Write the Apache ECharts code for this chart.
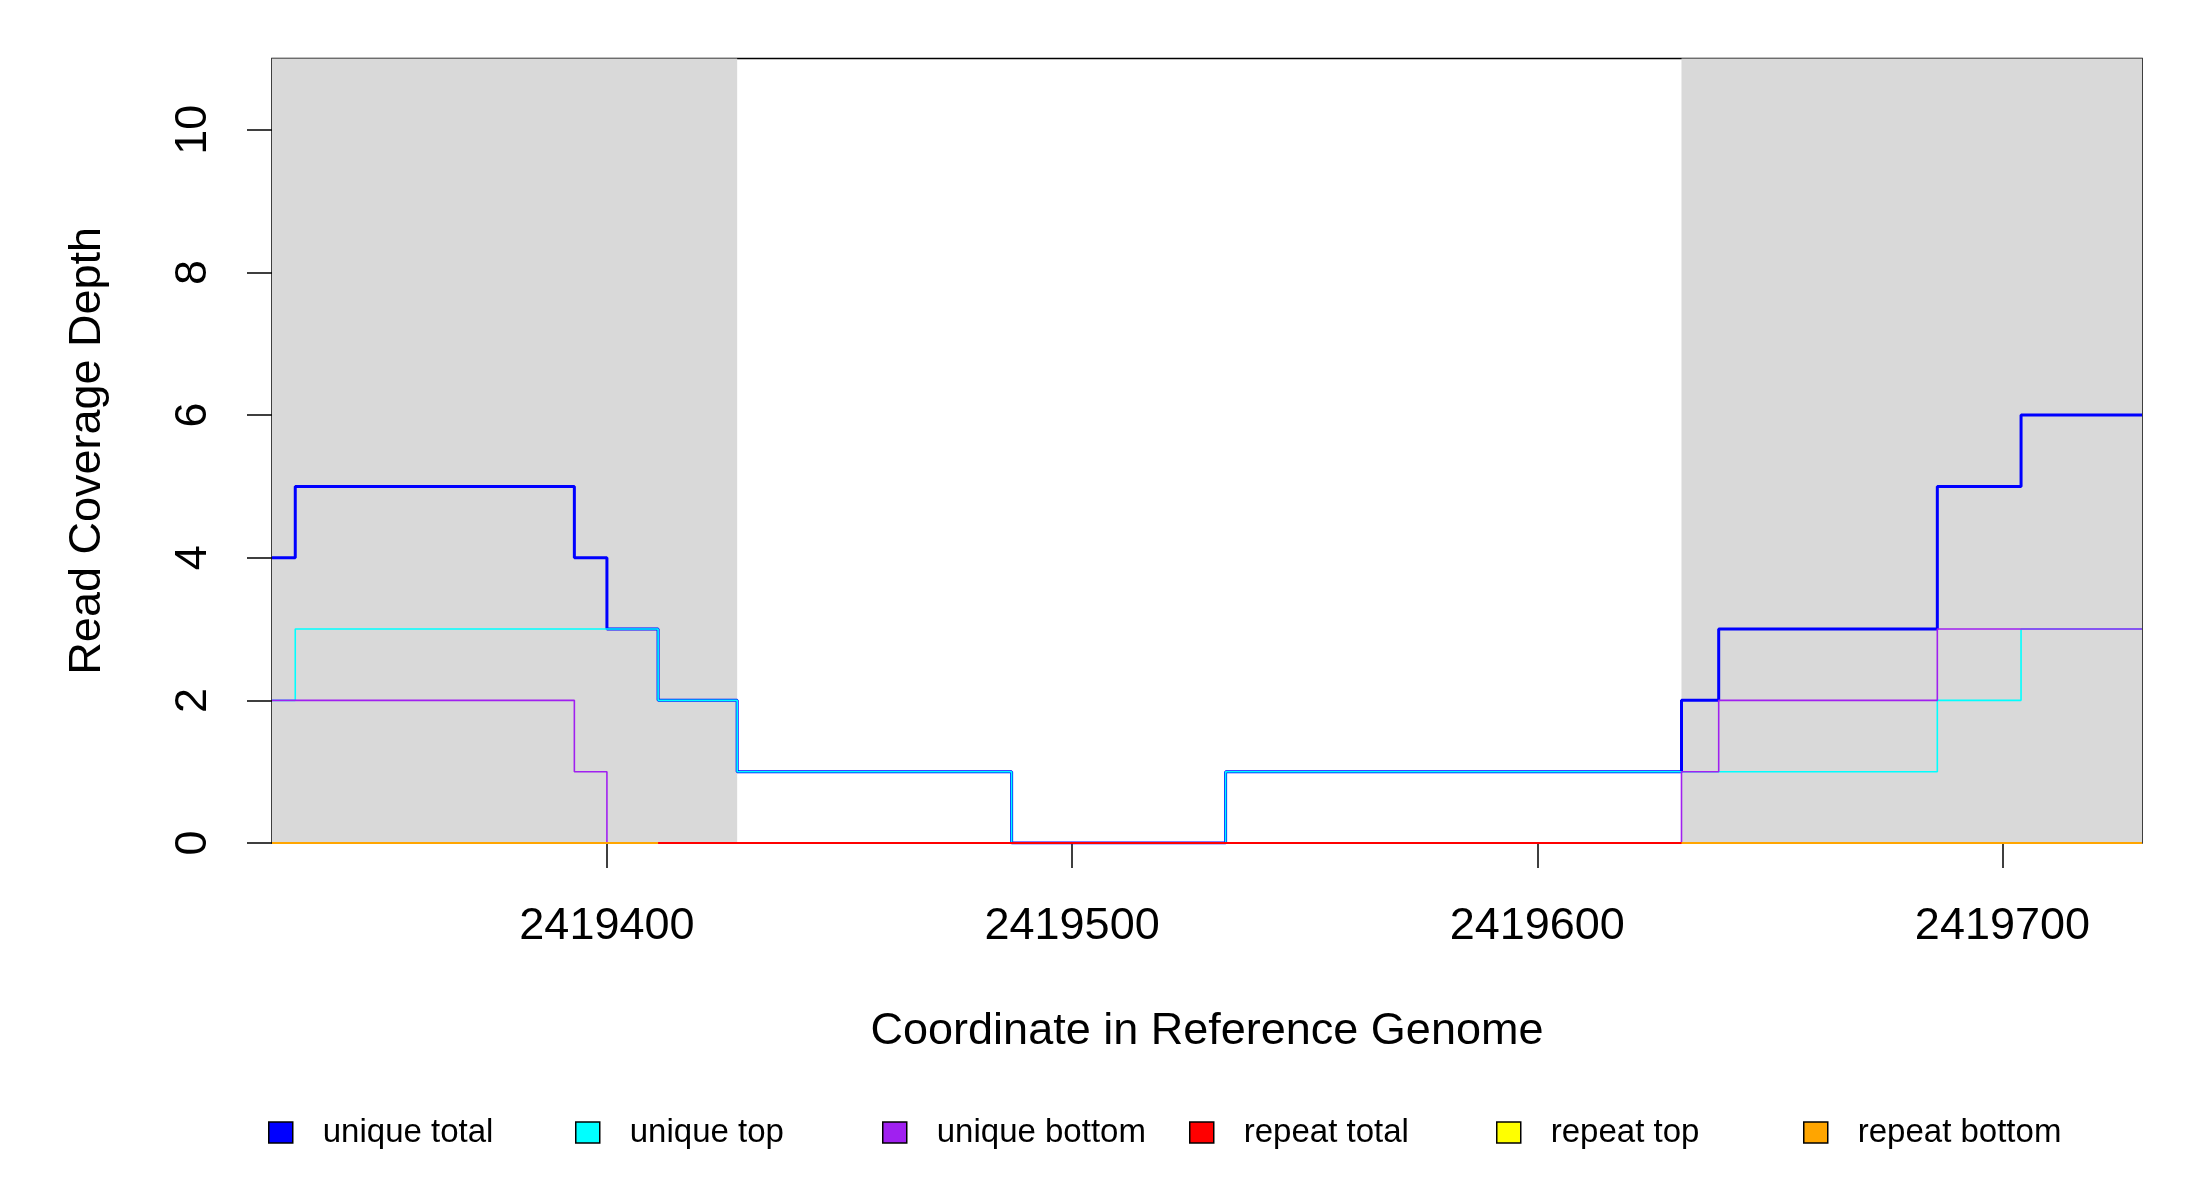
<!DOCTYPE html>
<html lang="en">
<head>
    <meta charset="UTF-8">
    <title>Read Coverage Depth</title>
    <script src="https://cdn.jsdelivr.net/npm/echarts@6/dist/echarts.min.js"></script>
    <style>
        body { margin: 0; background: #fff; }
    </style>
</head>
<body>
    <div id="main" style="width: 2200px;height:1200px;"></div>

    <script type="text/javascript">
        // coverage change points (value holds until the next point)
        var xBreaks = [2419328, 2419333, 2419393, 2419400, 2419411, 2419428, 2419487,
                       2419533, 2419631, 2419639, 2419686, 2419704, 2419730];
        var uniqueTotal  = [4, 5, 4, 3, 2, 1, 0, 1, 2, 3, 5, 6, 6];
        var uniqueTop    = [2, 3, 3, 3, 2, 1, 0, 1, 1, 1, 2, 3, 3];
        var uniqueBottom = [2, 2, 1, 0, 0, 0, 0, 0, 1, 2, 3, 3, 3];
        var repeatTotal  = [0, 0, 0, 0, 0, 0, 0, 0, 0, 0, 0, 0, 0];
        var repeatTop    = [0, 0, 0, 0, 0, 0, 0, 0, 0, 0, 0, 0, 0];
        var repeatBottom = [0, 0, 0, 0, null, null, null, null, 0, 0, 0, 0, 0];

        var shadedRegions = [[2419328, 2419428], [2419631, 2419730]];
        var xTicks = [2419400, 2419500, 2419600, 2419700];
        var yTicks = [0, 2, 4, 6, 8, 10];

        var seriesNames  = ['unique total', 'unique top', 'unique bottom', 'repeat total', 'repeat top', 'repeat bottom'];
        var seriesColors = ['#0000FF', '#00FFFF', '#A020F0', '#FF0000', '#FFFF00', '#FFA500'];
        var seriesValues = [uniqueTotal, uniqueTop, uniqueBottom, repeatTotal, repeatTop, repeatBottom];
        var lineWidths   = [3, 1.6, 1.6, 2, 2, 2];
        // stacking order of the drawn lines (yellow sits under red)
        var lineZ        = [3, 4, 5, 7, 6, 8];

        function pairs(vals) {
            return xBreaks.map(function (x, i) { return [x, vals[i]]; });
        }

        var font = 'Liberation Sans, Arial, sans-serif';
        var myChart = echarts.init(document.getElementById('main'));

        var series = seriesNames.map(function (name, i) {
            var s = {
                name: name,
                type: 'line',
                step: 'end',
                showSymbol: false,
                symbol: 'none',
                connectNulls: false,
                color: seriesColors[i],
                lineStyle: { color: seriesColors[i], width: lineWidths[i] },
                data: pairs(seriesValues[i]),
                z: lineZ[i]
            };
            if (i === 0) {
                s.markArea = {
                    silent: true,
                    itemStyle: { color: '#D9D9D9' },
                    data: shadedRegions.map(function (r) {
                        return [{ xAxis: r[0] }, { xAxis: r[1] }];
                    })
                };
            }
            return s;
        });

        // one legend per entry so they sit at fixed spacing like the original
        var legendLeft = [263, 570, 877, 1184, 1491, 1798];
        var legends = seriesNames.map(function (name, i) {
            return {
                data: [{ name: name, icon: 'rect', itemStyle: { color: seriesColors[i], borderColor: '#000', borderWidth: 1.5 } }],
                left: legendLeft[i],
                top: 1111,
                itemWidth: 24,
                itemHeight: 21,
                selectedMode: false,
                textStyle: { fontFamily: font, fontSize: 33, color: '#000', padding: [0, 0, 0, 25] }
            };
        });

        var option = {
            animation: false,
            backgroundColor: '#fff',
            legend: legends,
            grid: {
                left: 272, right: 58, top: 58.5, bottom: 357,
                show: true,
                borderColor: '#000',
                borderWidth: 1.5,
                backgroundColor: 'transparent'
            },
            xAxis: {
                type: 'value',
                min: 2419328,
                max: 2419730,
                name: 'Coordinate in Reference Genome',
                nameLocation: 'middle',
                nameGap: 166,
                nameTextStyle: { fontFamily: font, fontSize: 45, color: '#000' },
                axisLine: { show: false },
                axisTick: { show: true, length: 25, inside: false, customValues: xTicks, lineStyle: { color: '#000', width: 1.5 } },
                axisLabel: {
                    customValues: xTicks, fontFamily: font, fontSize: 45, color: '#000', margin: 61,
                    formatter: function (v) { return String(v); }
                },
                splitLine: { show: false }
            },
            yAxis: {
                type: 'value',
                min: 0,
                max: 11,
                name: 'Read Coverage Depth',
                nameLocation: 'middle',
                nameRotate: 90,
                nameGap: 162,
                nameTextStyle: { fontFamily: font, fontSize: 45, color: '#000' },
                axisLine: { show: false },
                axisTick: { show: true, length: 25, customValues: yTicks, lineStyle: { color: '#000', width: 1.5 } },
                axisLabel: { customValues: yTicks, rotate: 90, fontFamily: font, fontSize: 45, color: '#000', margin: 56 },
                splitLine: { show: false }
            },
            series: series
        };

        myChart.setOption(option);
    </script>
</body>
</html>
